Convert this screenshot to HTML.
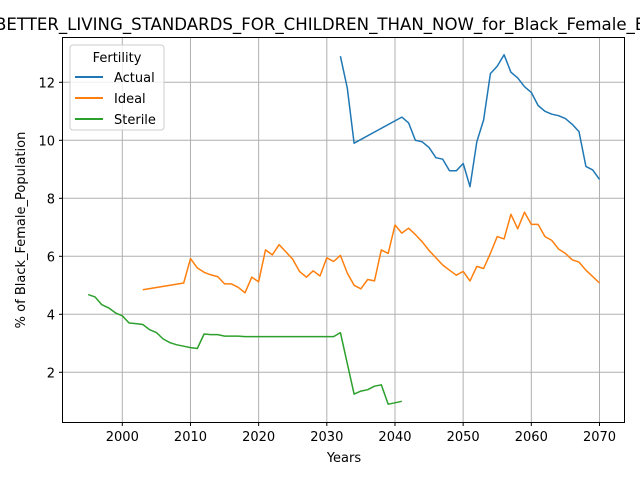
<!DOCTYPE html>
<html><head><meta charset="utf-8"><style>
body{margin:0;background:#fff}
svg{font-family:"DejaVu Sans","Liberation Sans",sans-serif}
</style></head><body>
<svg id="chart" width="640" height="480">
<text x="-5" y="30" font-size="16.6" fill="#000">BETTER_LIVING_STANDARDS_FOR_CHILDREN_THAN_NOW_for_Black_Female_Births</text>
<g id="grid"></g>
<g id="series"></g>
<rect x="62.5" y="37.5" width="562" height="385" fill="none" stroke="#000" stroke-width="1"/>
<g id="ticks"></g>
<text x="344" y="462" font-size="13" text-anchor="middle">Years</text>
<text transform="translate(25,230) rotate(-90)" font-size="13" text-anchor="middle">% of Black_Female_Population</text>
<g>
<rect x="70" y="45" width="94" height="85" rx="3" fill="#fff" fill-opacity="0.8" stroke="#ccc"/>
<text x="117" y="62" font-size="13" text-anchor="middle">Fertility</text>
<g><line x1="75" y1="77" x2="103" y2="77" stroke="#1f77b4" stroke-width="2"/><text x="114" y="82" font-size="13">Actual</text></g>
<g><line x1="75" y1="98" x2="103" y2="98" stroke="#ff7f0e" stroke-width="2"/><text x="114" y="103" font-size="13">Ideal</text></g>
<g><line x1="75" y1="119" x2="103" y2="119" stroke="#2ca02c" stroke-width="2"/><text x="114" y="124" font-size="13">Sterile</text></g>
</g>
</svg>
<script>
const actualYears=[2032,2033,2034,2041,2042,2043,2044,2045,2046,2047,2048,2049,2050,2051,2052,2053,2054,2055,2056,2057,2058,2059,2060,2061,2062,2063,2064,2065,2066,2067,2068,2069,2070];
const actualValues=[12.9,11.8,9.9,10.8,10.6,10.0,9.95,9.75,9.4,9.35,8.95,8.95,9.2,8.4,9.95,10.7,12.3,12.55,12.95,12.35,12.15,11.85,11.65,11.2,11.0,10.9,10.85,10.75,10.55,10.3,9.1,8.98,8.65];
const idealYears=[2003,2009,2010,2011,2012,2013,2014,2015,2016,2017,2018,2019,2020,2021,2022,2023,2024,2025,2026,2027,2028,2029,2030,2031,2032,2033,2034,2035,2036,2037,2038,2039,2040,2041,2042,2043,2044,2045,2046,2047,2048,2049,2050,2051,2052,2053,2054,2055,2056,2057,2058,2059,2060,2061,2062,2063,2064,2065,2066,2067,2068,2069,2070];
const idealValues=[4.85,5.08,5.92,5.6,5.45,5.36,5.3,5.05,5.05,4.93,4.74,5.28,5.12,6.22,6.05,6.4,6.15,5.9,5.48,5.28,5.5,5.32,5.95,5.82,6.03,5.42,5.0,4.88,5.2,5.15,6.22,6.1,7.08,6.8,6.97,6.75,6.5,6.2,5.95,5.7,5.52,5.35,5.48,5.15,5.65,5.58,6.1,6.68,6.6,7.45,6.95,7.52,7.1,7.1,6.68,6.55,6.25,6.1,5.88,5.8,5.52,5.3,5.08];
const sterileYears=[1995,1996,1997,1998,1999,2000,2001,2002,2003,2004,2005,2006,2007,2008,2009,2010,2011,2012,2013,2014,2015,2016,2017,2018,2031,2032,2034,2035,2036,2037,2038,2039,2040,2041];
const sterileValues=[4.68,4.6,4.33,4.22,4.05,3.95,3.7,3.68,3.65,3.47,3.37,3.15,3.02,2.95,2.9,2.85,2.82,3.32,3.3,3.3,3.25,3.25,3.25,3.23,3.23,3.37,1.25,1.35,1.4,1.52,1.57,0.9,0.95,1.0];
const xTicks=[2000,2010,2020,2030,2040,2050,2060,2070];
const yTicks=[2,4,6,8,10,12];
const NS="http://www.w3.org/2000/svg";
function xs(v){return 122.3+(v-2000)*6.817;}
function ys(v){return 430.3-v*29.0;}
function mk(tag,attrs,parent){const e=document.createElementNS(NS,tag);for(const k in attrs)e.setAttribute(k,attrs[k]);parent.appendChild(e);return e;}
const grid=document.getElementById('grid'),ticks=document.getElementById('ticks'),series=document.getElementById('series');
xTicks.forEach(t=>{const x=xs(t);
 const g=mk('line',{x1:x,x2:x,y1:37.5,y2:422.5,stroke:'#b0b0b0','stroke-width':1},grid);
 
 
 mk('line',{x1:x,x2:x,y1:422.5,y2:426,stroke:'#000'},ticks);
 const tx=mk('text',{x:x,y:441,'font-size':13,'text-anchor':'middle'},ticks);tx.textContent=t;
 
 });
yTicks.forEach(t=>{const y=ys(t);
 const g=mk('line',{x1:62.5,x2:624.5,y1:y,y2:y,stroke:'#b0b0b0','stroke-width':1},grid);
 
 
 mk('line',{x1:59,x2:62.5,y1:y,y2:y,stroke:'#000'},ticks);
 const tx=mk('text',{x:55,y:y+5,'font-size':13,'text-anchor':'end'},ticks);tx.textContent=t;
 
 });
function line(xsArr,vals,color,name){
 const pts=xsArr.map((x,i)=>xs(x).toFixed(1)+','+ys(vals[i]).toFixed(1)).join(' ');
 const p=mk('polyline',{points:pts,fill:'none',stroke:color,'stroke-width':1.5,'stroke-linejoin':'round'},series);
 
 }
line(actualYears,actualValues,'#1f77b4','actual-line');
line(idealYears,idealValues,'#ff7f0e','ideal-line');
line(sterileYears,sterileValues,'#2ca02c','sterile-line');
</script>
</body></html>
